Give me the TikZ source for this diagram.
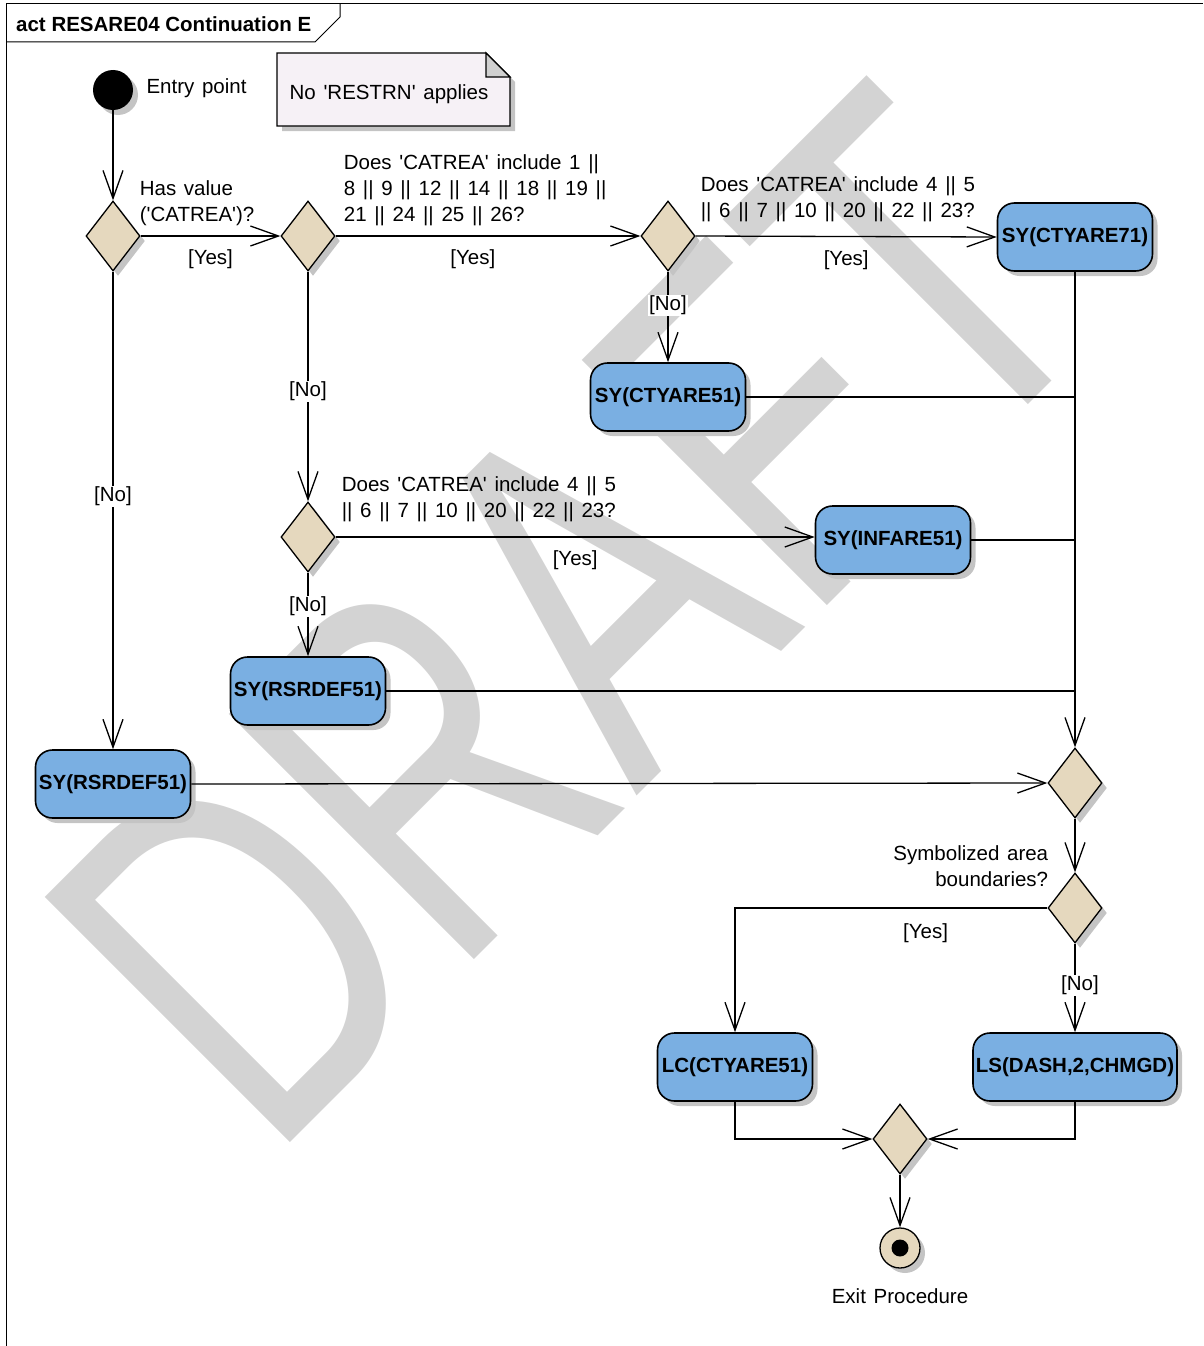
\documentclass[tikz,border=0pt]{standalone}
\usepackage{fontspec}
\setmainfont{Liberation Sans}[WordSpace=1.35, BoldFeatures={WordSpace=1}]
\usepackage{graphicx}
\usetikzlibrary{arrows.meta, shapes.geometric, shadows, positioning}
\definecolor{actfill}{RGB}{122,175,226}
\definecolor{decfill}{RGB}{229,216,190}
\definecolor{notefill}{RGB}{246,241,246}
\definecolor{shadowgray}{RGB}{196,196,196}
\definecolor{wmgray}{RGB}{211,211,211}
\newcommand{\q}{\textquotesingle}

\begin{document}
\begin{tikzpicture}[x=1pt, y=-1pt, font=\fontsize{20.5}{26}\selectfont,
  nodeshadow/.style={drop shadow={shadow xshift=5pt, shadow yshift=-5pt, fill=shadowgray, opacity=1}},
  action/.style={draw, line width=1.6pt, fill=actfill, rounded corners=17pt,
    minimum width=155pt, minimum height=68pt, inner sep=2pt,
    font=\fontsize{20.5}{26}\selectfont\bfseries, nodeshadow},
  decision/.style={diamond, draw, line width=1.3pt, fill=decfill, inner sep=0pt,
    minimum width=54pt, minimum height=70pt, nodeshadow},
  flow/.style={line width=1.3pt, -{Straight Barb[length=28pt, width=20pt]}},
  joinline/.style={line width=1.3pt},
  guard/.style={align=left, inner sep=0pt, anchor=south west},
  yes/.style={midway, below=12pt, inner sep=1pt},
  no/.style={fill=white, inner sep=1pt}]
  \useasboundingbox (0,0) rectangle (1203,1346);
  \node[text=wmgray, rotate=45, inner sep=0pt] (wm) at (571,617)
    {\scalebox{1}[1.4]{\fontsize{360}{360}\selectfont DRAFT}};

  \draw[line width=1pt] (6,1346) -- (6,4) -- (1203,4);
  \draw[line width=1pt] (6,42) -- (315,42) -- (340,17) -- (340,4);
  \node[anchor=west, font=\fontsize{20.5}{26}\selectfont\bfseries, inner sep=0pt] (title) at (16,24)
    {act RESARE04 Continuation E};

  \filldraw[line width=1.3pt, fill=notefill, nodeshadow] (277,53) -- (486,53) -- (510,77) -- (510,126) -- (277,126) -- cycle;
  \filldraw[line width=1.3pt, fill=shadowgray!80] (486,53) -- (486,77) -- (510,77) -- cycle;
  \node (note) at (389,94) {No \q RESTRN\q{} applies};

  \node[circle, fill=black, minimum size=40pt, inner sep=0pt, nodeshadow] (start) at (113,90) {};
  \node[anchor=west] (startlbl) at (143,88) {Entry point};

  \node[decision] (d1) at (113,236) {};
  \node[decision] (d2) at (308,236) {};
  \node[decision] (d3) at (668,236) {};
  \node[decision] (d4) at (308,537) {};
  \node[decision] (m1) at (1075,783) {};
  \node[decision] (d5) at (1075,908) {};
  \node[decision] (m2) at (900,1139) {};

  \node[action] (a1) at (1075,237) {SY(CTYARE71)};
  \node[action] (a2) at (668,397) {SY(CTYARE51)};
  \node[action] (a3) at (893,540) {SY(INFARE51)};
  \node[action] (a4) at (308,691) {SY(RSRDEF51)};
  \node[action] (a5) at (113,784) {SY(RSRDEF51)};
  \node[action] (a6) at (735,1067) {LC(CTYARE51)};
  \node[action, minimum width=204pt] (a7) at (1075,1067) {LS(DASH,2,CHMGD)};

  \node[circle, draw, line width=1.3pt, fill=decfill, minimum size=40pt, inner sep=0pt, nodeshadow] (fin) at (900,1248) {};
  \fill (fin.center) circle (8.5pt);
  \node[below=16pt of fin.south, anchor=north] (finlbl) {Exit Procedure};

  \draw[flow] (start) -- (d1.north);
  \draw[flow] (d1.east) -- node[yes] {[Yes]} (d2.west);
  \node[guard] at ([xshift=-1pt, yshift=10pt]d1.east) {Has value\\(\q CATREA\q)?};
  \draw[flow] (d1.south) -- node[no, pos=0.47] {[No]} (a5.north);
  \draw[flow] (d2.east) -- node[yes, pos=0.45] {[Yes]} (d3.west);
  \node[guard] at ([xshift=8pt, yshift=10pt]d2.east) {Does \q CATREA\q{} include 1 ||\\8 || 9 || 12 || 14 || 18 || 19 ||\\21 || 24 || 25 || 26?};
  \draw[flow] (d2.south) -- node[no, pos=0.52] {[No]} (d4.north);
  \draw[flow] (d3.east) -- node[yes] {[Yes]} (a1.west);
  \node[guard] at ([xshift=5pt, yshift=14pt]d3.east) {Does \q CATREA\q{} include 4 || 5\\|| 6 || 7 || 10 || 20 || 22 || 23?};
  \draw[flow] (d3.south) -- node[no, pos=0.37] {[No]} (a2.north);
  \draw[flow] (d4.east) -- node[yes] {[Yes]} (d4.east -| a3.west);
  \node[guard] at ([xshift=6pt, yshift=15pt]d4.east) {Does \q CATREA\q{} include 4 || 5\\|| 6 || 7 || 10 || 20 || 22 || 23?};
  \draw[flow] (d4.south) -- node[no, pos=0.4] {[No]} (a4.north);

  \draw[flow] (a1.south) -- (m1.north);
  \draw[joinline] (a2.east) -- (a2.east -| a1.south);
  \draw[joinline] (a3.east) -- (a3.east -| a1.south);
  \draw[joinline] (a4.east) -- (a4.east -| a1.south);
  \draw[flow] (a5.east) -- (m1.west);

  \draw[flow] (m1.south) -- (d5.north);
  \node[align=right, inner sep=0pt, anchor=south east] at ([xshift=1pt, yshift=21pt]d5.west) {Symbolized area\\boundaries?};
  \draw[flow] (d5.west) -| node[pos=0.195, below=14pt, inner sep=1pt] {[Yes]} (a6.north);
  \draw[flow] (d5.south) -- node[no, pos=0.47, xshift=5pt] {[No]} (a7.north);
  \draw[flow] (a6.south) |- (m2.west);
  \draw[flow] (a7.south) |- (m2.east);
  \draw[flow] (m2.south) -- (fin.north);
\end{tikzpicture}
\end{document}
